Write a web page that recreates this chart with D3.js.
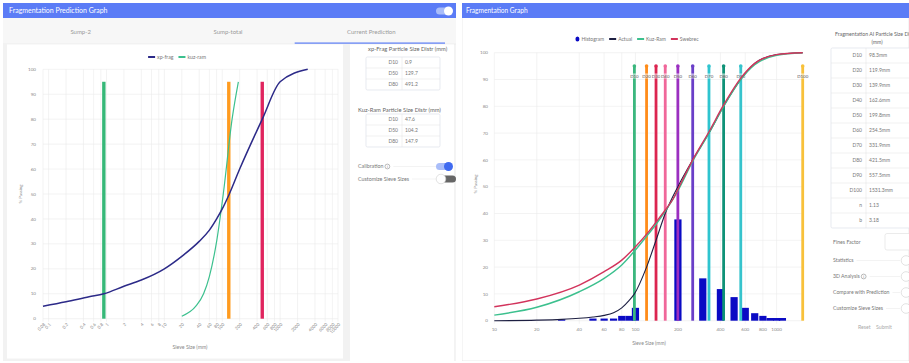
<!DOCTYPE html>
<html>
<head>
<meta charset="utf-8">
<title>Fragmentation</title>
<script src="https://cdn.jsdelivr.net/npm/d3@7/dist/d3.min.js"></script>
<style>
  html, body { margin: 0; padding: 0; background: #ffffff; }
  svg { display: block; font-family: Lato, "Open Sans", "DejaVu Sans", sans-serif; }
</style>
</head>
<body>
<svg id="view" width="909" height="363"></svg>
<script>
// ---------- Prediction panel data ----------
const predTabs = ["Sump-2", "Sump-total", "Current Prediction"];
const predSieveTicks = [0.08, 0.1, 0.2, 0.4, 0.6, 0.8, 1, 2, 4, 6, 8, 10, 20, 40, 60, 80, 100,
  200, 400, 600, 800, 1000, 2000, 4000, 6000, 8000, 10000];
const passingTicks = [0, 10, 20, 30, 40, 50, 60, 70, 80, 90, 100];
const xpFragCurve = [[0.08, 5], [0.2, 6.8], [0.5, 8.8], [0.9, 10], [2, 13], [4, 15.5], [10, 20],
  [20, 25], [40, 31], [60, 35.5], [80, 40], [100, 44], [129.7, 49.5], [200, 60], [491.2, 80],
  [1000, 95], [3000, 100]];
const kuzRamPredCurve = [[20, 1], [35, 5], [47.6, 10], [60, 17], [80, 31], [104.2, 50], [147.9, 80], [190, 95]];
const xpFragDistr = [["D10", 0.9], ["D50", 129.7], ["D80", 491.2]];
const kuzRamDistr = [["D10", 47.6], ["D50", 104.2], ["D80", 147.9]];
const predSwitches = [["Calibration", true, true], ["Customize Sieve Sizes", false, false]];

// ---------- Fragmentation graph data ----------
const graphSieveTicks = [10, 20, 40, 60, 80, 100, 200, 400, 600, 800, 1000];
const histSizes = [30, 50, 60, 70, 80, 90, 100, 200, 300, 400, 500, 600, 700, 800, 900, 1000, 1100];
const histPercent = [0.5, 0.8, 0.8, 0.8, 1.8, 1.8, 4.8, 37.8, 15.8, 11.8, 8.8, 4.8, 2.8, 1.8, 1, 1, 1];
const actualCurve = [[10, 0], [20, 0.2], [30, 0.5], [40, 0.9], [50, 1.4], [60, 2], [70, 3], [80, 4.8],
  [90, 7.5], [98.3, 10], [119.9, 20], [139.9, 30], [162.6, 40], [199.8, 50], [254.5, 60], [331.9, 70],
  [421.5, 80], [557.5, 90], [700, 96], [1000, 99.3], [1531.3, 100]];
const kuzRamCurve = [[10, 2.1], [20, 5], [40, 10.8], [60, 15.8], [80, 20.8], [100, 26.4], [120, 31.5],
  [140, 36], [162.6, 40.8], [200, 48.5], [254.5, 59.5], [331.9, 70], [421.5, 80], [557.5, 90],
  [700, 95.5], [1000, 99], [1531.3, 100]];
const swebrecCurve = [[10, 5.2], [20, 8.1], [40, 13.3], [60, 18.3], [80, 22.6], [100, 27.6], [120, 32.3],
  [140, 36.8], [162.6, 41.3], [185, 45.5], [200, 49], [254.5, 60], [331.9, 70.5], [421.5, 80.5],
  [557.5, 90.5], [700, 96], [1000, 99.3], [1531.3, 100]];
const aiDistr = [["D10", 98.3], ["D20", 119.9], ["D30", 139.9], ["D40", 162.6], ["D50", 199.8],
  ["D60", 254.5], ["D70", 331.9], ["D80", 421.5], ["D90", 557.5], ["D100", 1531.3]];
const aiParams = [["n", "1.13"], ["b", "3.18"]];
const graphSwitches = [["Statistics", false], ["3D Analysis", true], ["Compare with Prediction", false], ["Customize Sieve Sizes", false]];

// ---------- styles ----------
const HEADER = "#5b7cf6";
const GRID = "#ebebeb";
const TICK_TXT = "#8a8a8a";
const XP_COLOR = "#2c2a88";
const KR_COLOR = "#3cc08e";
const predLineColors = ["#36b878", "#ff9b1f", "#e0245e"];
const dColors = ["#3bb77e", "#ff8c1a", "#dc2550", "#f0679a", "#9b2fc0", "#6a3fc8",
  "#2fc4cf", "#0f9277", "#36c3cc", "#f8c13a"];
const ACTUAL_COLOR = "#1d1f42";
const SWEBREC_COLOR = "#d2335c";
const HIST_COLOR = "#0a0ac4";

const svg = d3.select("#view");
const defs = svg.append("defs");
defs.append("clipPath").attr("id", "clipL").append("rect")
  .attr("x", 3).attr("y", 3).attr("width", 453).attr("height", 358);
defs.append("clipPath").attr("id", "clipR").append("rect")
  .attr("x", 462).attr("y", 3).attr("width", 447).attr("height", 358);

function txt(g, x, y, s, size, color, anchor) {
  return g.append("text").attr("x", x).attr("y", y).attr("dy", "0.35em")
    .attr("font-size", size).attr("fill", color).attr("text-anchor", anchor || "start").text(s);
}

function legend(g, items, cx, y, size) {
  const lg = g.append("g");
  let x = 0;
  items.forEach(it => {
    if (it.shape === "dot") {
      lg.append("ellipse").attr("cx", x + 2).attr("cy", y).attr("rx", 2).attr("ry", 2.6).attr("fill", it.color);
      x += 6;
    } else {
      lg.append("rect").attr("x", x).attr("y", y - 1).attr("width", 7).attr("height", 2).attr("fill", it.color);
      x += 9;
    }
    const t = txt(lg, x, y, it.name, size, "#777");
    x += t.node().getComputedTextLength() + 5;
  });
  lg.attr("transform", `translate(${cx - (x - 5) / 2},0)`);
}

function toggle(g, cx, cy, on, color) {
  if (on) {
    g.append("rect").attr("x", cx - 8).attr("y", cy - 3.5).attr("width", 16).attr("height", 7)
      .attr("rx", 3.5).attr("fill", "#a9bdf9");
    g.append("circle").attr("cx", cx + 4.5).attr("cy", cy).attr("r", 4.5).attr("fill", color || "#3f6af0");
  } else {
    g.append("rect").attr("x", cx - 2).attr("y", cy - 3.5).attr("width", 16).attr("height", 7)
      .attr("rx", 3.5).attr("fill", "#666");
    g.append("circle").attr("cx", cx - 1).attr("cy", cy).attr("r", 4.8).attr("fill", "#fff")
      .attr("stroke", "#cfcfcf").attr("stroke-width", 0.6);
  }
}

function infoIcon(g, x, y) {
  g.append("circle").attr("cx", x).attr("cy", y).attr("r", 2.4).attr("fill", "none")
    .attr("stroke", "#777").attr("stroke-width", 0.5);
  txt(g, x, y + 0.1, "i", 3.4, "#777", "middle");
}

function table(g, x, y, w, rowH, split, rows, labelSize, color) {
  const h = rowH * rows.length;
  g.append("rect").attr("x", x).attr("y", y).attr("width", w).attr("height", h)
    .attr("fill", "#fff").attr("stroke", "#d6dbe6").attr("stroke-width", 0.6).attr("rx", 1.5);
  rows.forEach((r, i) => {
    if (i > 0) g.append("line").attr("x1", x).attr("x2", x + w).attr("y1", y + i * rowH).attr("y2", y + i * rowH)
      .attr("stroke", "#e1e1e1").attr("stroke-width", 0.5);
    const cy = y + i * rowH + rowH / 2;
    txt(g, x + split - 4, cy, r[0], labelSize, color, "end");
    txt(g, x + split + 3, cy, r[1], labelSize, color, "start");
  });
  g.append("line").attr("x1", x + split).attr("x2", x + split).attr("y1", y).attr("y2", y + h)
    .attr("stroke", "#e1e1e1").attr("stroke-width", 0.5);
}

// ================= Left panel: prediction =================
const L = svg.append("g").attr("clip-path", "url(#clipL)");
L.append("rect").attr("x", 3).attr("y", 3).attr("width", 453).attr("height", 358).attr("fill", "#f2f2f2");
L.append("rect").attr("x", 3).attr("y", 3).attr("width", 453).attr("height", 15).attr("fill", HEADER);
txt(L, 9, 11, "Fragmentation Prediction Graph", 7, "#fff");
toggle(L, 444, 11, true, "#ffffff");

// tabs
L.append("rect").attr("x", 3).attr("y", 18).attr("width", 453).attr("height", 25).attr("fill", "#f7f7f7");
const tabX = d3.scaleBand().domain(predTabs).range([3, 445]);
predTabs.forEach(t => txt(L, tabX(t) + tabX.bandwidth() / 2 + (t === "Current Prediction" ? 0 : 4), 32, t, 6, "#9a9a9a", "middle"));
L.append("rect").attr("x", tabX(predTabs[2]) - 3).attr("y", 42.5).attr("width", tabX.bandwidth() + 3).attr("height", 1.2)
  .attr("fill", "#5b7cf6");

// chart card and side panel
L.append("rect").attr("x", 7).attr("y", 44.5).attr("width", 336).attr("height", 314).attr("fill", "#fff");
L.append("rect").attr("x", 350).attr("y", 44.5).attr("width", 106).attr("height", 316.5).attr("fill", "#fff");
L.append("line").attr("x1", 455).attr("x2", 455).attr("y1", 44).attr("y2", 361).attr("stroke", "#d8d8d8").attr("stroke-width", 0.6);

const xL = d3.scaleLog().domain([0.08, 10000]).range([43, 338]);
const yL = d3.scaleLinear().domain([0, 100]).range([318.7, 69.3]);

const gL = L.append("g");
gL.selectAll(".hg").data(passingTicks).join("line")
  .attr("x1", xL.range()[0]).attr("x2", xL.range()[1]).attr("y1", d => yL(d)).attr("y2", d => yL(d))
  .attr("stroke", GRID).attr("stroke-width", 0.6);
gL.selectAll(".vg").data(predSieveTicks).join("line")
  .attr("x1", d => xL(d)).attr("x2", d => xL(d)).attr("y1", yL(100)).attr("y2", yL(0) + 3)
  .attr("stroke", GRID).attr("stroke-width", 0.6);
gL.selectAll(".yt").data(passingTicks).join("text")
  .attr("x", 36).attr("y", d => yL(d)).attr("dy", "0.35em").attr("text-anchor", "end")
  .attr("font-size", 4.6).attr("fill", TICK_TXT).text(d => d);
gL.selectAll(".xt").data(predSieveTicks).join("text")
  .attr("transform", d => `translate(${xL(d) + 1.5},${yL(0) + 5}) rotate(-45)`)
  .attr("text-anchor", "end").attr("dy", "0.35em")
  .attr("font-size", 4.4).attr("fill", TICK_TXT).text(d => d);
txt(gL, 190, 347, "Sieve Size (mm)", 5.2, "#888", "middle");
gL.append("text").attr("transform", `translate(20,194) rotate(-90)`).attr("text-anchor", "middle")
  .attr("dy", "0.35em").attr("font-size", 4.4).attr("fill", "#888").text("% Passing");

// size markers
xpFragDistr.forEach((d, i) => {
  gL.append("line").attr("x1", xL(d[1])).attr("x2", xL(d[1])).attr("y1", yL(0)).attr("y2", yL(95))
    .attr("stroke", predLineColors[i]).attr("stroke-width", 3.4);
});

const lineL = d3.line().x(d => xL(d[0])).y(d => yL(d[1])).curve(d3.curveMonotoneX);
gL.append("path").attr("d", lineL(kuzRamPredCurve)).attr("fill", "none").attr("stroke", KR_COLOR).attr("stroke-width", 1.2);
gL.append("path").attr("d", lineL(xpFragCurve)).attr("fill", "none").attr("stroke", XP_COLOR).attr("stroke-width", 1.5);

legend(L, [{ name: "xp-frag", color: XP_COLOR }, { name: "kuz-ram", color: KR_COLOR }], 177, 57, 5.2);

// side tables
txt(L, 368, 49, "xp-Frag Particle Size Distr (mm)", 5.8, "#666");
table(L, 366, 57, 74, 11, 36, xpFragDistr.map(d => [d[0], String(d[1])]), 5, "#777");
txt(L, 358, 110, "Kuz-Ram Particle Size Distr (mm)", 5.8, "#666");
table(L, 366, 114, 74, 11, 36, kuzRamDistr.map(d => [d[0], String(d[1])]), 5, "#777");

predSwitches.forEach((s, i) => {
  const y = 166.5 + i * 12.5;
  const t = txt(L, 358, y, s[0], 5.3, "#777");
  let end = 358 + t.node().getComputedTextLength();
  if (s[2]) { infoIcon(L, end + 4, y); end += 7; }
  L.append("line").attr("x1", end + 3).attr("x2", 436).attr("y1", y).attr("y2", y).attr("stroke", "#e6e6e6").attr("stroke-width", 0.5);
  toggle(L, s[1] ? 444 : 442, y, s[1]);
});

// ================= Right panel: fragmentation graph =================
const R = svg.append("g").attr("clip-path", "url(#clipR)");
R.append("rect").attr("x", 462).attr("y", 3).attr("width", 447).attr("height", 358).attr("fill", "#fff")
  .attr("stroke", "#dcdcdc").attr("stroke-width", 0.6);
R.append("rect").attr("x", 462).attr("y", 3).attr("width", 447).attr("height", 15).attr("fill", HEADER);
txt(R, 466, 11, "Fragmentation Graph", 6.6, "#fff");

const xR = d3.scaleLog().domain([10, 1531.3]).range([494.3, 802.7]);
const yR = d3.scaleLinear().domain([0, 100]).range([320.7, 52.7]);

const gR = R.append("g");
gR.selectAll(".hg").data(passingTicks).join("line")
  .attr("x1", xR.range()[0]).attr("x2", xR.range()[1]).attr("y1", d => yR(d)).attr("y2", d => yR(d))
  .attr("stroke", GRID).attr("stroke-width", 0.6);
gR.selectAll(".vg").data(graphSieveTicks).join("line")
  .attr("x1", d => xR(d)).attr("x2", d => xR(d)).attr("y1", yR(100)).attr("y2", yR(0) + 3)
  .attr("stroke", GRID).attr("stroke-width", 0.6);
gR.selectAll(".yt").data(passingTicks).join("text")
  .attr("x", 488).attr("y", d => yR(d)).attr("dy", "0.35em").attr("text-anchor", "end")
  .attr("font-size", 4.6).attr("fill", TICK_TXT).text(d => d);
gR.selectAll(".xt").data(graphSieveTicks).join("text")
  .attr("x", d => xR(d)).attr("y", 329.5).attr("dy", "0.35em").attr("text-anchor", "middle")
  .attr("font-size", 4.6).attr("fill", TICK_TXT).text(d => d);
txt(gR, 649, 343, "Sieve Size (mm)", 5, "#888", "middle");
gR.append("text").attr("transform", `translate(475,184) rotate(-90)`).attr("text-anchor", "middle")
  .attr("dy", "0.35em").attr("font-size", 4.4).attr("fill", "#888").text("% Passing");

// histogram
gR.selectAll(".bar").data(histSizes.map((s, i) => [s, histPercent[i]])).join("rect")
  .attr("x", d => xR(d[0]) - 3.6).attr("width", 7.2)
  .attr("y", d => yR(d[1])).attr("height", d => yR(0) - yR(d[1]))
  .attr("fill", HIST_COLOR);

// particle size markers
aiDistr.forEach((d, i) => {
  const x = xR(d[1]);
  gR.append("line").attr("x1", x).attr("x2", x).attr("y1", yR(0)).attr("y2", yR(95))
    .attr("stroke", dColors[i]).attr("stroke-width", 2.8);
  gR.append("circle").attr("cx", x).attr("cy", yR(95)).attr("r", 1.8).attr("fill", dColors[i]);
});
aiDistr.forEach(d => {
  const x = xR(d[1]);
  gR.append("rect").attr("x", x - 5).attr("y", yR(91.3) - 2.6).attr("width", 10).attr("height", 5.2)
    .attr("fill", "#fff").attr("opacity", 0.55);
  txt(gR, x, yR(91.3), d[0], 4.4, "#555", "middle");
});

const lineR = d3.line().x(d => xR(d[0])).y(d => yR(d[1])).curve(d3.curveMonotoneX);
gR.append("path").attr("d", lineR(actualCurve)).attr("fill", "none").attr("stroke", ACTUAL_COLOR).attr("stroke-width", 1.1);
gR.append("path").attr("d", lineR(kuzRamCurve)).attr("fill", "none").attr("stroke", KR_COLOR).attr("stroke-width", 1.4);
gR.append("path").attr("d", lineR(swebrecCurve)).attr("fill", "none").attr("stroke", SWEBREC_COLOR).attr("stroke-width", 1.4);

legend(R, [{ name: "Histogram", color: HIST_COLOR, shape: "dot" }, { name: "Actual", color: ACTUAL_COLOR },
  { name: "Kuz-Ram", color: KR_COLOR }, { name: "Swebrec", color: SWEBREC_COLOR }], 637, 39, 5);

// AI distribution table (panel edge crops the long title, as in the app)
txt(R, 835, 34.5, "Fragmentation AI Particle Size Distr", 5.2, "#666", "start");
txt(R, 877, 42, "(mm)", 5.2, "#666", "middle");
const aiRows = aiDistr.map(d => [d[0], d[1] + "mm"]).concat(aiParams);
table(R, 831, 48, 90, 15, 35, aiRows, 5, "#777");

txt(R, 833, 242, "Fines Factor", 5.2, "#777");
R.append("rect").attr("x", 885).attr("y", 233.5).attr("width", 30).attr("height", 16.5).attr("rx", 2)
  .attr("fill", "#fff").attr("stroke", "#dedede").attr("stroke-width", 0.6);
graphSwitches.forEach((s, i) => {
  const y = 260.5 + i * 16;
  const t = txt(R, 833, y, s[0], 5.2, "#777");
  let end = 833 + t.node().getComputedTextLength();
  if (s[1]) { infoIcon(R, end + 4, y); end += 7; }
  R.append("line").attr("x1", end + 3).attr("x2", 900).attr("y1", y).attr("y2", y).attr("stroke", "#e6e6e6").attr("stroke-width", 0.5);
  R.append("circle").attr("cx", 906).attr("cy", y).attr("r", 4.8).attr("fill", "#fff")
    .attr("stroke", "#cfcfcf").attr("stroke-width", 0.6);
});
txt(R, 858, 327, "Reset", 5.2, "#aaa");
txt(R, 876, 327, "Submit", 5.2, "#aaa");
</script>
</body>
</html>
